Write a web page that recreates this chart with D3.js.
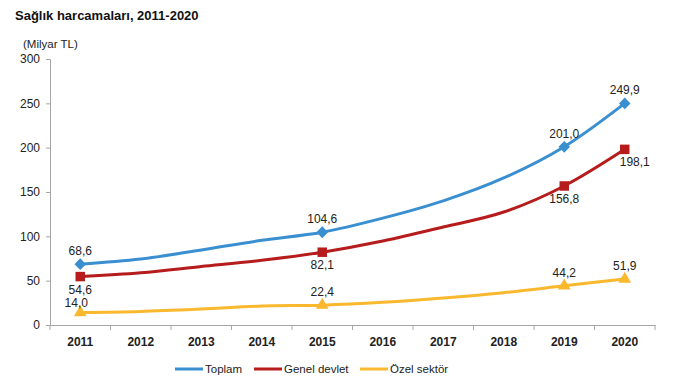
<!DOCTYPE html>
<html><head><meta charset="utf-8">
<script src="https://cdn.jsdelivr.net/npm/d3@7"></script>
<style>
body{margin:0;background:#fff;}
text{font-family:"Liberation Sans",Arial,sans-serif;}
</style></head>
<body><svg id="c" width="693" height="391"></svg>
<script>
const years = [2011,2012,2013,2014,2015,2016,2017,2018,2019,2020];
const toplam = [68.6,74.4,84.6,95.5,104.6,120.5,140.0,165.8,201.0,249.9];
const genelDevlet = [54.6,59.0,66.0,73.0,82.1,94.7,110.5,127.4,156.8,198.1];
const ozelSektor = [14.0,15.3,18.0,21.3,22.4,25.6,30.4,36.5,44.2,51.9];
const labeledYears = [2011,2015,2019,2020];
const yTicks = [0,50,100,150,200,250,300];
const seriesNames = ["Toplam","Genel devlet","Özel sektör"];

const svg = d3.select("#c");
const x = d3.scaleBand().domain(years).range([50,655]);
const y = d3.scaleLinear().domain([0,300]).range([325,59]);
const fmt = v => v.toFixed(1).replace(".",",");

svg.append("text").attr("x",15).attr("y",20).attr("font-size",13).attr("font-weight","bold").attr("fill","#111").text("Sağlık harcamaları, 2011-2020");
svg.append("text").attr("x",23).attr("y",48).attr("font-size",11.5).attr("fill","#222").text("(Milyar TL)");

const yAxis = svg.append("g").attr("transform","translate(50,0)")
  .call(d3.axisLeft(y).tickValues(yTicks).tickSize(4).tickPadding(6));
yAxis.selectAll("text").attr("font-size",12).attr("fill","#222").attr("font-family","Liberation Sans, Arial");
yAxis.selectAll("line,path").attr("stroke","#a6a6a6");

const xAxis = svg.append("g").attr("transform","translate(0,325)")
  .call(d3.axisBottom(x).tickSize(0).tickPadding(12));
xAxis.selectAll("text").attr("font-size",12).attr("font-weight","bold").attr("fill","#222").attr("font-family","Liberation Sans, Arial");
xAxis.select("path").attr("stroke","#a6a6a6");
const edges = years.map(d=>x(d)).concat([x(years[years.length-1])+x.bandwidth()]);
svg.append("g").selectAll("line").data(edges).join("line")
  .attr("x1",d=>d).attr("x2",d=>d).attr("y1",325).attr("y2",330).attr("stroke","#a6a6a6");

const cx = d => x(d)+x.bandwidth()/2;
const series = [
  {name:seriesNames[0], vals:toplam, color:"#3a8fd0", marker:"diamond"},
  {name:seriesNames[1], vals:genelDevlet, color:"#b71c1c", marker:"square"},
  {name:seriesNames[2], vals:ozelSektor, color:"#f9b82d", marker:"triangle"}
];
const line = d3.line().x((d,i)=>cx(years[i])).y(d=>y(d)).curve(d3.curveMonotoneX);
series.forEach(s=>{
  svg.append("path").attr("d",line(s.vals)).attr("fill","none").attr("stroke",s.color).attr("stroke-width",3);
});
const symbols = {diamond:d3.symbolDiamond, square:d3.symbolSquare, triangle:d3.symbolTriangle};
const sizes = {diamond:40, square:90, triangle:70};
const scl = {diamond:"scale(1.7,1)", square:"", triangle:""};
series.forEach((s,si)=>{
  labeledYears.forEach(yr=>{
    const i = years.indexOf(yr);
    svg.append("path").attr("d",d3.symbol().type(symbols[s.marker]).size(sizes[s.marker])())
      .attr("transform",`translate(${cx(yr)},${y(s.vals[i])}) ${scl[s.marker]}`).attr("fill",s.color);
    let dx=0, dy=-9;
    if(si===1){ dy=17; if(yr===2020) dx=10; }
    if(si===2 && yr===2011){ dx=-4; dy=-6; }
    svg.append("text").attr("x",cx(yr)+dx).attr("y",y(s.vals[i])+dy)
      .attr("text-anchor","middle").attr("font-size",12).attr("fill","#222").text(fmt(s.vals[i]));
  });
});

const legX = [175,254,360];
series.forEach((s,i)=>{
  svg.append("line").attr("x1",legX[i]).attr("x2",legX[i]+28).attr("y1",369).attr("y2",369)
    .attr("stroke",s.color).attr("stroke-width",3);
  svg.append("text").attr("x",legX[i]+30).attr("y",373).attr("font-size",11.5).attr("fill","#222").text(s.name);
});
</script></body></html>
